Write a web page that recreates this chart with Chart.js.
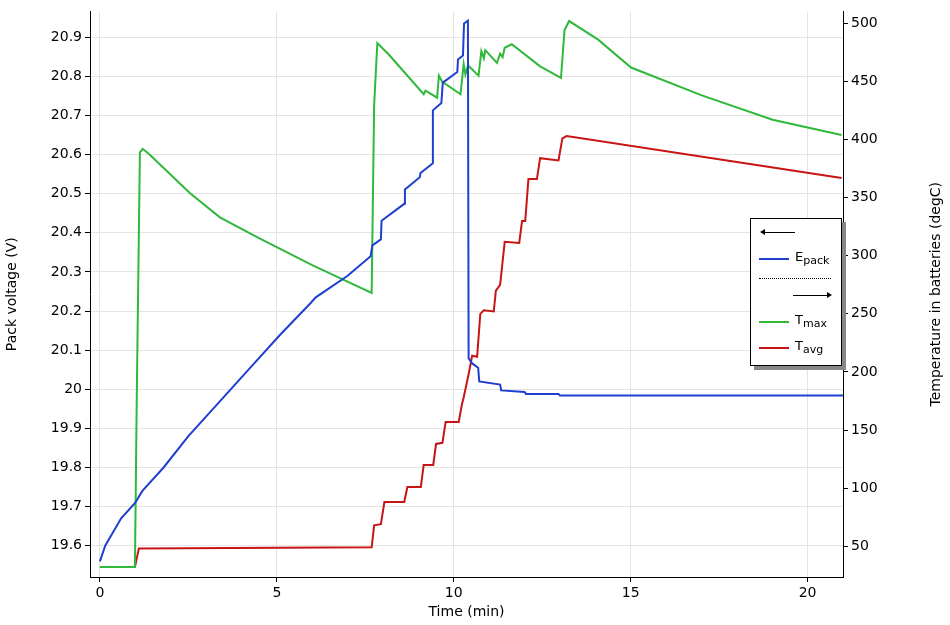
<!DOCTYPE html>
<html>
<head>
<meta charset="utf-8">
<script src="https://cdn.jsdelivr.net/npm/chart.js"></script>
<style>
  body { margin: 0; background: #fff; font-family: "DejaVu Sans", sans-serif; }
  #wrap { position: relative; width: 950px; height: 625px; }
  #legend { position: absolute; left: 750px; top: 218px; width: 90px; height: 146px;
            border: 1px solid #000; background: #fff; box-shadow: 4px 4px 0 #888; font-size: 13px; }
  .row { position: absolute; left: 8px; height: 20px; }
  .sw { position: absolute; top: 9px; width: 30px; height: 2px; }
  .lab { position: absolute; left: 36px; top: 0; }
  sub { font-size: 11px; vertical-align: -3px; }
</style>
</head>
<body>
<div id="wrap">
  <canvas id="c" width="950" height="625"></canvas>
  <div id="legend">
    <div class="row" style="top:4px"><div class="sw" style="left:4px;width:32px;height:1px;background:#000"></div><div style="position:absolute;left:1px;top:6px;border-right:5px solid #000;border-top:3px solid transparent;border-bottom:3px solid transparent"></div></div>
    <div class="row" style="top:30px"><div class="sw" style="background:#1f3fd1"></div><div class="lab">E<sub>pack</sub></div></div>
    <div class="row" style="top:50px"><div class="sw" style="width:72px;height:0;border-top:1px dotted #000"></div></div>
    <div class="row" style="top:67px"><div class="sw" style="left:34px;width:36px;height:1px;background:#000"></div><div style="position:absolute;left:68px;top:6px;border-left:5px solid #000;border-top:3px solid transparent;border-bottom:3px solid transparent"></div></div>
    <div class="row" style="top:93px"><div class="sw" style="background:#2fb83a"></div><div class="lab">T<sub>max</sub></div></div>
    <div class="row" style="top:119px"><div class="sw" style="background:#c81414"></div><div class="lab">T<sub>avg</sub></div></div>
  </div>
</div>
<script>
// Pack voltage (V), time in min
const epackTime = [0, 0.15, 0.6, 1.0, 1.2, 1.8, 2.5, 3.3, 4.2, 5.1, 5.95, 6.1, 7.0, 7.65, 7.7, 7.94, 7.96, 8.6, 8.62, 9.04, 9.06, 9.41, 9.41, 9.65, 9.69, 10.1, 10.12, 10.26, 10.29, 10.4, 10.42, 10.52, 10.69, 10.72, 11.31, 11.34, 12.0, 12.04, 12.96, 13.0, 21.0];
const epackVal  = [19.56, 19.6, 19.67, 19.71, 19.74, 19.8, 19.88, 19.96, 20.05, 20.14, 20.22, 20.235, 20.29, 20.34, 20.368, 20.383, 20.431, 20.474, 20.511, 20.542, 20.553, 20.578, 20.713, 20.732, 20.784, 20.811, 20.843, 20.853, 20.935, 20.942, 20.079, 20.066, 20.055, 20.02, 20.012, 19.997, 19.993, 19.988, 19.988, 19.984, 19.984];
// Maximum battery temperature (degC)
const tmaxTime = [0, 0.99, 1.04, 1.13, 1.21, 1.41, 2.54, 3.39, 4.51, 6.0, 6.77, 7.68, 7.75, 7.84, 8.17, 9.15, 9.2, 9.53, 9.58, 9.67, 10.19, 10.28, 10.33, 10.4, 10.7, 10.78, 10.85, 10.89, 11.22, 11.31, 11.38, 11.44, 11.64, 12.44, 13.03, 13.13, 13.26, 14.08, 15.01, 17.01, 19.01, 20.96];
const tmaxVal  = [32, 32, 175, 389, 392, 387, 354, 333, 315, 292, 281, 268, 430, 483, 473, 439, 442, 436, 455, 450, 439, 465, 456, 464, 455, 476, 470, 477, 466, 474, 471, 479, 482, 463, 453, 494, 502, 486, 462, 438, 417, 404];
// Average battery temperature (degC)
const tavgTime = [0, 0.99, 1.1, 7.68, 7.75, 7.94, 8.04, 8.6, 8.69, 9.07, 9.15, 9.42, 9.5, 9.68, 9.77, 10.14, 10.23, 10.28, 10.42, 10.52, 10.66, 10.75, 10.85, 11.13, 11.19, 11.31, 11.38, 11.44, 11.85, 11.93, 12.02, 12.11, 12.35, 12.44, 12.96, 13.07, 13.19, 20.96];
const tavgVal  = [32, 32, 48, 49, 68, 69, 88, 88, 101, 101, 120, 120, 138, 139, 157, 157, 172, 178, 198, 214, 213, 250, 253, 252, 270, 275, 295, 312, 311, 330, 330, 366, 366, 384, 382, 401, 403, 367];
const xTicks = [0, 5, 10, 15, 20];

const pts = (t, v) => t.map((x, i) => ({ x, y: v[i] }));
const font = { family: 'DejaVu Sans', size: 14 };
const gridColor = '#e4e4e4';

// right axis title reads bottom-to-top like the left one
const rightTitle = {
  id: 'rightTitle',
  afterDraw(chart) {
    const { ctx, chartArea } = chart;
    ctx.save();
    ctx.translate(936, (chartArea.top + chartArea.bottom) / 2);
    ctx.rotate(-Math.PI / 2);
    ctx.font = '14px "DejaVu Sans"';
    ctx.fillStyle = '#000';
    ctx.textAlign = 'center';
    ctx.textBaseline = 'middle';
    ctx.fillText('Temperature in batteries (degC)', 0, 0);
    ctx.restore();
  }
};

new Chart(document.getElementById('c'), {
  type: 'line',
  data: {
    datasets: [
      { label: 'Epack', data: pts(epackTime, epackVal), yAxisID: 'y', borderColor: '#1f3fd1', borderWidth: 2, pointRadius: 0, tension: 0 },
      { label: 'Tmax', data: pts(tmaxTime, tmaxVal), yAxisID: 'y2', borderColor: '#2fb83a', borderWidth: 2, pointRadius: 0, tension: 0 },
      { label: 'Tavg', data: pts(tavgTime, tavgVal), yAxisID: 'y2', borderColor: '#c81414', borderWidth: 2, pointRadius: 0, tension: 0 }
    ]
  },
  options: {
    responsive: false, animation: false,
    layout: { padding: { top: 8, right: 0, left: 0, bottom: 0 } },
    plugins: { legend: { display: false }, tooltip: { enabled: false } },
    scales: {
      x: {
        type: 'linear', min: -0.28, max: 21.0,
        afterBuildTicks: a => { a.ticks = xTicks.map(v => ({ value: v })); },
        ticks: { font, color: '#000', maxRotation: 0 },
        grid: { color: gridColor, tickColor: '#000', tickLength: 5 },
        border: { color: '#000' },
        title: { display: true, text: 'Time (min)', font, color: '#000', padding: { top: 0 } },
        afterFit: a => { a.height = 48; }
      },
      y: {
        position: 'left', min: 19.52, max: 20.966,
        afterBuildTicks: a => {
          const t = [];
          for (let i = 0; i <= 13; i++) t.push({ value: +(19.6 + i * 0.1).toFixed(1) });
          a.ticks = t;
        },
        ticks: { font, color: '#000', callback: v => String(+v.toFixed(1)) },
        grid: { color: gridColor, tickColor: '#000', tickLength: 5 },
        border: { color: '#000' },
        title: { display: true, text: 'Pack voltage (V)', font, color: '#000' },
        afterFit: a => { a.width = 90; }
      },
      y2: {
        position: 'right', min: 23.5, max: 510.3,
        afterBuildTicks: a => {
          const t = [];
          for (let v = 50; v <= 500; v += 50) t.push({ value: v });
          a.ticks = t;
        },
        ticks: { font, color: '#000' },
        grid: { drawOnChartArea: false, tickColor: '#000', tickLength: 5 },
        border: { color: '#000' },
        title: { display: false },
        afterFit: a => { a.width = 107; }
      }
    }
  },
  plugins: [rightTitle]
});
</script>
</body>
</html>
